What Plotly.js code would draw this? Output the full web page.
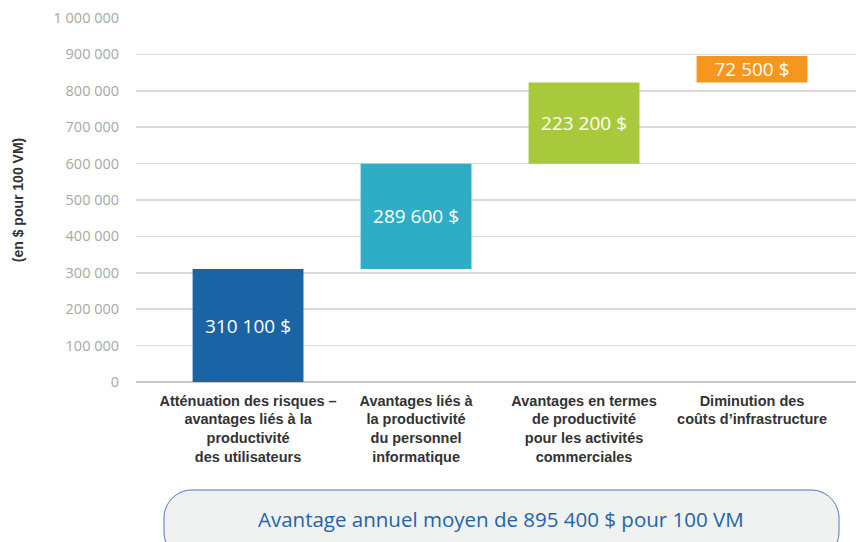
<!DOCTYPE html>
<html>
<head>
<meta charset="utf-8">
<script src="https://cdn.plot.ly/plotly-3.0.1.min.js"></script>
<style>
html,body{margin:0;padding:0;background:#fff;}
#chart{width:856px;height:542px;}
</style>
</head>
<body>
<div id="chart"></div>
<script>
// ---- data ----
const categories = [
  "Atténuation des risques –<br>avantages liés à la<br>productivité<br>des utilisateurs",
  "Avantages liés à<br>la productivité<br>du personnel<br>informatique",
  "Avantages en termes<br>de productivité<br>pour les activités<br>commerciales",
  "Diminution des<br>coûts d’infrastructure"
];
const values = [310100, 289600, 223200, 72500];
const barColors = ["#1a64a6", "#30adc6", "#a8c93b", "#f7961f"];
const tickValues = [0,100000,200000,300000,400000,500000,600000,700000,800000,900000,1000000];

// cumulative bases for waterfall
const bases = [];
let run = 0;
values.forEach(v => { bases.push(run); run += v; });
const total = run;
const fmt = n => String(n).replace(/\B(?=(\d{3})+(?!\d))/g, " ");

// layout geometry helpers (pixels -> paper)
const W = 856, H = 542;
const M = {l:136, r:0, t:18, b:160};
const pw = W - M.l - M.r, ph = H - M.t - M.b;
const px = x => (x - M.l) / pw;
const py = y => (H - M.b - y) / ph;

// rounded box path
function roundBox(x0, y0, x1, y1, r) {
  const k = 0.55 * r;
  const P = (x, y) => px(x) + "," + py(y);
  return "M" + P(x0 + r, y0) +
    " L" + P(x1 - r, y0) +
    " C" + P(x1 - r + k, y0) + " " + P(x1, y0 + r - k) + " " + P(x1, y0 + r) +
    " L" + P(x1, y1 - r) +
    " C" + P(x1, y1 - r + k) + " " + P(x1 - r + k, y1) + " " + P(x1 - r, y1) +
    " L" + P(x0 + r, y1) +
    " C" + P(x0 + r - k, y1) + " " + P(x0, y1 - r + k) + " " + P(x0, y1 - r) +
    " L" + P(x0, y0 + r) +
    " C" + P(x0, y0 + r - k) + " " + P(x0 + r - k, y0) + " " + P(x0 + r, y0) + " Z";
}

const condensed = "'Liberation Sans Narrow', 'Liberation Sans', 'DejaVu Sans', sans-serif";
const sans = "'Open Sans', 'Noto Sans', sans-serif";

const trace = {
  type: "bar",
  x: categories,
  y: values,
  base: bases,
  width: 0.66,
  marker: {color: barColors, line: {width: 0}},
  texttemplate: values.map(v => fmt(v) + " $"),
  textposition: "inside",
  insidetextanchor: "middle",
  constraintext: "none",
  textfont: {family: sans, size: 19, color: "#ffffff"},
  hoverinfo: "skip"
};

const layout = {
  width: W, height: H,
  margin: M,
  paper_bgcolor: "#ffffff",
  plot_bgcolor: "#ffffff",
  showlegend: false,
  separators: ", ",
  xaxis: {
    type: "category",
    range: [-0.667, 3.619],
    showgrid: false,
    zeroline: false,
    showline: false,
    ticks: "",
    ticklabelstandoff: 8,
    tickfont: {family: condensed, size: 14.5, color: "#333333", weight: "bold", stretch: "condensed"},
    automargin: false
  },
  yaxis: {
    range: [0, 1000000],
    tickvals: tickValues,
    ticktext: tickValues.map(fmt),
    showgrid: true,
    gridcolor: "#d9d9d9",
    gridwidth: 1.5,
    zeroline: true,
    zerolinecolor: "#c8c8c8",
    zerolinewidth: 2,
    showline: false,
    ticks: "outside",
    ticklen: 13,
    tickcolor: "rgba(255,255,255,0)",
    tickfont: {family: sans, size: 14.5, color: "#a8a8a8"},
    title: {text: "(en $ pour 100 VM)", font: {family: condensed, size: 14, color: "#333333", weight: "bold", stretch: "condensed"}, standoff: 26},
    automargin: false,
    fixedrange: true
  },
  shapes: [{
    type: "path",
    xref: "paper", yref: "paper",
    path: roundBox(164, 490, 839, 560, 28),
    fillcolor: "#f0f1f1",
    line: {color: "#4a78b8", width: 1}
  }],
  annotations: [{
    xref: "paper", yref: "paper",
    x: px(501), y: py(519),
    xanchor: "center", yanchor: "middle",
    showarrow: false,
    text: "Avantage annuel moyen de " + fmt(total) + " $ pour 100 VM",
    font: {family: sans, size: 20.5, color: "#1f64a9"}
  }]
};

Plotly.newPlot("chart", [trace], layout, {displayModeBar: false, staticPlot: true});
</script>
</body>
</html>
